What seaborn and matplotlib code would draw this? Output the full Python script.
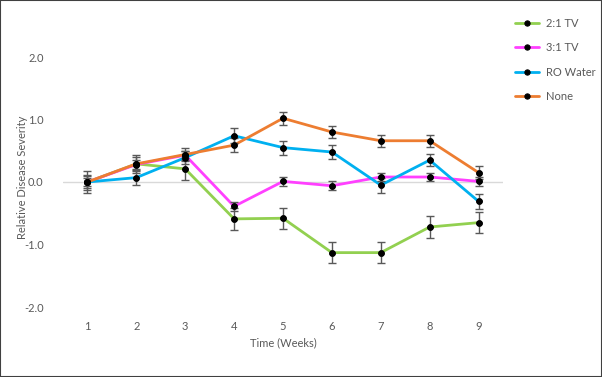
import numpy as np
import pandas as pd
import seaborn as sns
import matplotlib.pyplot as plt
from matplotlib.patches import Rectangle

weeks = [1, 2, 3, 4, 5, 6, 7, 8, 9]
series_names = ['2:1 TV', '3:1 TV', 'RO Water', 'None']

tv21 = [0.00, 0.29, 0.21, -0.59, -0.58, -1.13, -1.13, -0.72, -0.65]
tv31 = [0.00, 0.28, 0.43, -0.39, 0.01, -0.06, 0.08, 0.08, 0.01]
ro_water = [0.00, 0.07, 0.39, 0.74, 0.55, 0.48, -0.05, 0.35, -0.31]
none = [0.00, 0.29, 0.44, 0.59, 1.02, 0.80, 0.66, 0.66, 0.15]

err_tv21 = [0.18, 0.15, 0.18, 0.18, 0.17, 0.17, 0.17, 0.18, 0.17]
err_tv31 = [0.07, 0.07, 0.07, 0.07, 0.07, 0.07, 0.07, 0.07, 0.07]
err_ro = [0.12, 0.12, 0.10, 0.12, 0.11, 0.11, 0.12, 0.10, 0.12]
err_none = [0.10, 0.11, 0.10, 0.11, 0.10, 0.10, 0.10, 0.10, 0.10]

colors = ['#92D050', '#FF40FF', '#00B0F0', '#ED7D31']

values = [tv21, tv31, ro_water, none]
errors = [err_tv21, err_tv31, err_ro, err_none]

rows = []
for name, vals, errs in zip(series_names, values, errors):
    for w, v, e in zip(weeks, vals, errs):
        rows.append({'week': w, 'value': v, 'err': e, 'series': name})
df = pd.DataFrame(rows)

sns.set_style('white')
plt.rcParams['font.family'] = ['Lato', 'DejaVu Sans']

fig = plt.figure(figsize=(6.02, 3.77), dpi=100)
ax = fig.add_axes([63 / 602, 1 - 307 / 377, 440 / 602, 250 / 377])

ax.axhline(0, color='#D9D9D9', lw=1, zorder=1)

for name, c in zip(series_names, colors):
    d = df[df['series'] == name]
    sns.lineplot(data=d, x='week', y='value', color=c, lw=2, label=name,
                 marker='o', markersize=3.8, markerfacecolor='black',
                 markeredgecolor='black', ax=ax, zorder=3)
    ax.errorbar(d['week'], d['value'], yerr=d['err'], fmt='none',
                ecolor='#595959', elinewidth=1, capsize=3, capthick=1, zorder=4)
    ax.plot(d['week'], d['value'], 'o', ms=3.8, color='black', zorder=5)

ax.set_xlim(0.5, 9.5)
ax.set_ylim(-2, 2)
ax.set_xticks(weeks)
ax.set_yticks([-2, -1, 0, 1, 2])
ax.set_yticklabels(['-2.0', '-1.0', '0.0', '1.0', '2.0'])
ax.tick_params(axis='both', length=0, labelsize=8, colors='#595959')
ax.tick_params(axis='x', pad=10)
ax.tick_params(axis='y', pad=14)
for s in ax.spines.values():
    s.set_visible(False)
ax.set_xlabel('Time (Weeks)', fontsize=8, color='#595959', labelpad=4)
ax.set_ylabel('Relative Disease Severity', fontsize=8, color='#595959')
ax.yaxis.set_label_coords(-0.080, 0.52)

leg = ax.legend(loc='upper left', bbox_to_anchor=(505 / 602, 1 - 8 / 377),
                bbox_transform=fig.transFigure, frameon=False, fontsize=8,
                labelspacing=1.2, handlelength=2.2, handletextpad=0.6,
                labelcolor='#595959')

fig.patches.append(Rectangle((0, 0), 1, 1, transform=fig.transFigure,
                             fill=False, edgecolor='#404040', lw=1.5))

fig.savefig('out.png', dpi=100)
